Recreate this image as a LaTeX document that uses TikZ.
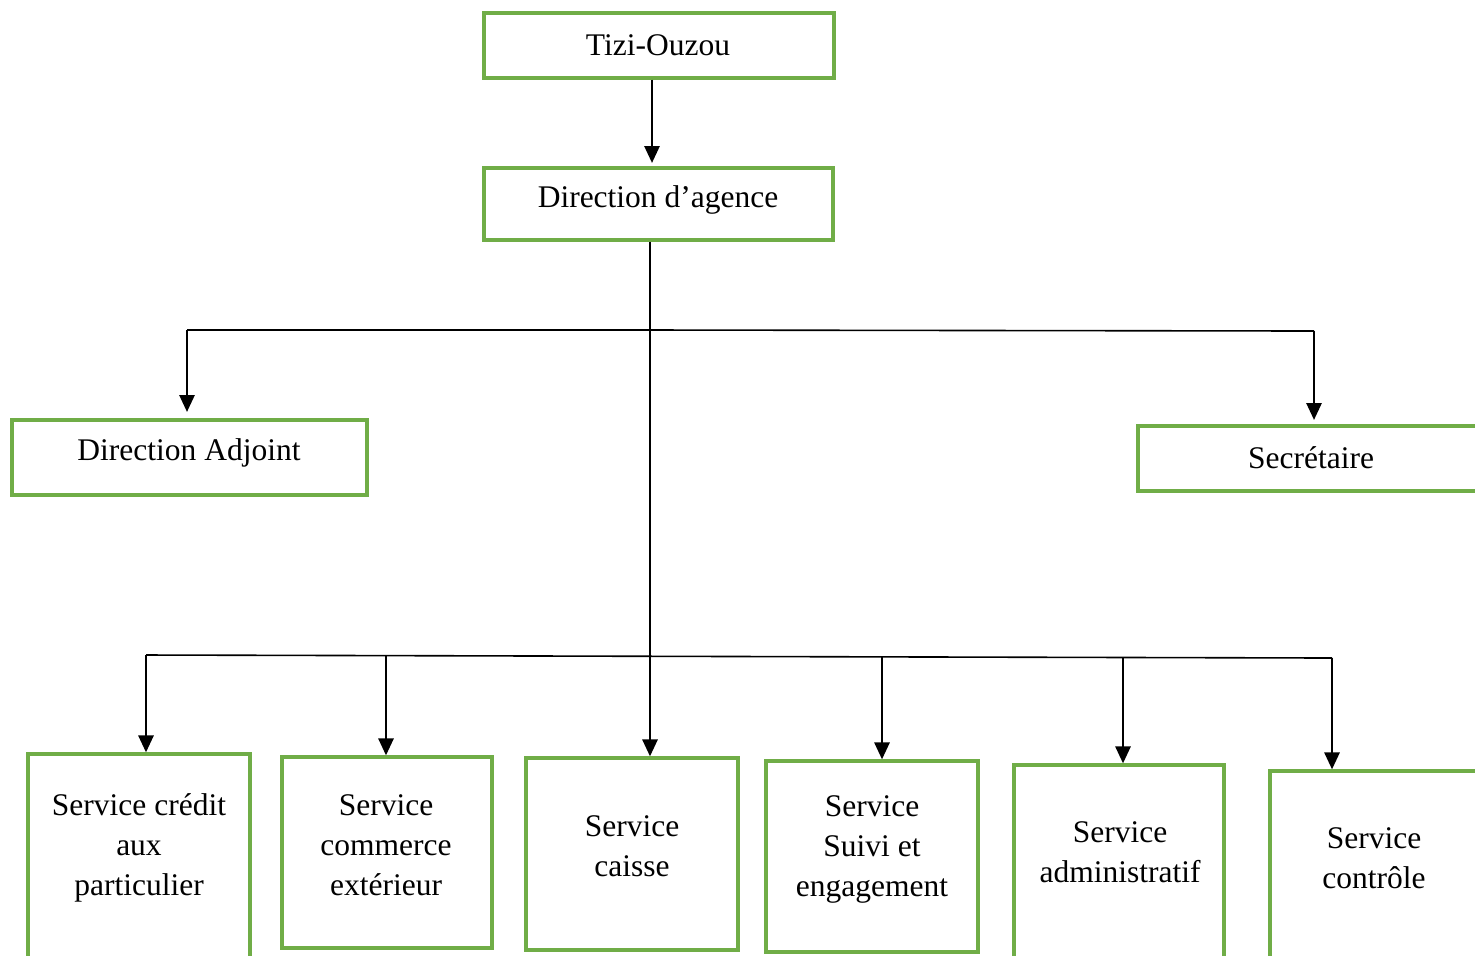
\documentclass[tikz,border=0pt]{standalone}
\usepackage{fontspec}
\setmainfont{Liberation Serif}
\usetikzlibrary{arrows.meta,fit}
\definecolor{boxgreen}{RGB}{112,173,71}
\begin{document}
\begin{tikzpicture}[x=0.5pt,y=-0.5pt,
  box/.style={draw=boxgreen,line width=1.6pt,inner sep=0pt,fill=white},
  txt/.style={align=center,font=\fontsize{15.75}{20}\selectfont,inner sep=0pt},
  bus/.style={line width=0.8pt},
  arr/.style={line width=1.4pt,-{Triangle[width=7.5pt,length=8.5pt]}}]
\useasboundingbox (0,0) rectangle (1475,955);
\clip (0,0) rectangle (1475,955);
\fill[white] (0,0) rectangle (1475,955);

% top of the chart
\node[box,fit={(484,13)(834,78)}] (tizi) {};
\node[txt] (tizit) at (658,45) {Tizi-Ouzou};
\node[box,fit={(484,168)(833,240)}] (dir) {};
\node[txt] (dirt) at (658,200) {Direction d’agence};

% second level
\node[box,fit={(12,420)(367,495)}] (adj) {};
\node[txt] (adjt) at (189,453) {Direction Adjoint};
\node[box,fit={(1138,426)(1490,491)}] (sec) {};
\node[txt] (sect) at (1311,458) {Secrétaire};

% services
\node[box,fit={(28,754)(250,990)}] (s1) {};
\node[txt] (s1t) at (139,848) {Service crédit\\aux\\particulier};
\node[box,fit={(282,757)(492,948)}] (s2) {};
\node[txt] (s2t) at (386,845) {Service\\commerce\\extérieur};
\node[box,fit={(526,758)(738,950)}] (s3) {};
\node[txt] (s3t) at (632,846) {Service\\caisse};
\node[box,fit={(766,761)(978,952)}] (s4) {};
\node[txt] (s4t) at (872,849) {Service\\Suivi et\\engagement};
\node[box,fit={(1014,765)(1224,990)}] (s5) {};
\node[txt] (s5t) at (1120,852) {Service\\administratif};
\node[box,fit={(1270,771)(1490,990)}] (s6) {};
\node[txt] (s6t) at (1374,858) {Service\\contrôle};

% connector coordinates
\coordinate (trunk) at (650,240);
\coordinate (busA) at (650,330);
\coordinate (busAl) at (187,330);
\coordinate (busAr) at (1314,331);
\coordinate (busB) at (650,656);
\coordinate (b1) at (146,655);
\coordinate (b2) at (386,656);
\coordinate (b3) at (650,656);
\coordinate (b4) at (882,657);
\coordinate (b5) at (1123,657);
\coordinate (b6) at (1332,658);

% connectors
\draw[arr] (tizi.south -| 652,0) -- (652,163);
\draw[bus] (dir.south -| trunk) -- (busB);
\draw[bus] (busAl) -- (busA) -- (busAr);
\draw[arr] (busAl) -- (busAl |- 0,412);
\draw[arr] (busAr) -- (busAr |- 0,420);
\draw[bus] (b1) -- (b6);
\draw[arr] (b1) -- (b1 |- s1.north);
\draw[arr] (b2) -- (b2 |- s2.north);
\draw[arr] (b3) -- (b3 |- s3.north);
\draw[arr] (b4) -- (b4 |- s4.north);
\draw[arr] (b5) -- (b5 |- s5.north);
\draw[arr] (b6) -- (b6 |- s6.north);
\end{tikzpicture}
\end{document}
